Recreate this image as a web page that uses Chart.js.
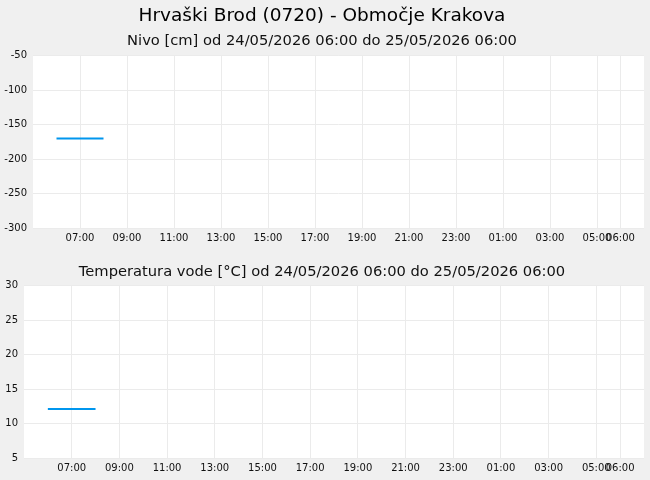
<!DOCTYPE html>
<html>
<head>
<meta charset="utf-8">
<script src="https://cdn.jsdelivr.net/npm/chart.js@4/dist/chart.umd.min.js"></script>
<style>
  html, body { margin: 0; padding: 0; background: #f0f0f0; }
  #wrap { position: relative; width: 650px; height: 480px; overflow: hidden; }
  canvas { position: absolute; left: 0; }
  #levelChart { top: 0; }
  #tempChart { top: 250px; }
</style>
</head>
<body>
<div id="wrap">
  <canvas id="levelChart" width="650" height="250"></canvas>
  <canvas id="tempChart" width="650" height="230"></canvas>
</div>
<script>
// hours counted from 24/05/2026 00:00
const hours = [6, 7, 8];
const levelValues = [-170, -170, -170];
const tempValues = [12.1, 12.1, 12.1];

const tickHours = [7, 9, 11, 13, 15, 17, 19, 21, 23, 25, 27, 29, 30];
const tickLabels = ["07:00", "09:00", "11:00", "13:00", "15:00", "17:00", "19:00",
                    "21:00", "23:00", "01:00", "03:00", "05:00", "06:00"];

const levelTicks = [-300, -250, -200, -150, -100, -50];
const tempTicks = [5, 10, 15, 20, 25, 30];

const FONT = "'DejaVu Sans', sans-serif";
const lineColor = "#0096ee";
const gridColor = "#ebebeb";

// white plot area
const plotBackground = {
    id: "plotBackground",
    beforeDraw(chart) {
        const a = chart.chartArea;
        const c = chart.ctx;
        c.save();
        c.fillStyle = "#ffffff";
        c.fillRect(a.left, a.top, a.right - a.left, a.bottom - a.top);
        c.restore();
    }
};

function makeChart(id, values, yTicks, yWidth, titles) {
    const ctx = document.getElementById(id).getContext("2d");
    return new Chart(ctx, {
        type: "line",
        data: {
            datasets: [{
                data: hours.map((h, i) => ({ x: h, y: values[i] })),
                borderColor: lineColor,
                borderWidth: 2,
                pointRadius: 0,
                fill: false,
                tension: 0
            }]
        },
        options: {
            responsive: false,
            animation: false,
            layout: { padding: { left: 0, right: 6, top: 0, bottom: 2 } },
            plugins: {
                legend: { display: false },
                tooltip: { enabled: false },
                title: titles.title,
                subtitle: titles.subtitle
            },
            scales: {
                x: {
                    type: "linear",
                    min: 5,
                    max: 31,
                    border: { display: false },
                    grid: { color: gridColor, drawTicks: false },
                    afterBuildTicks: scale => {
                        scale.ticks = tickHours.map(v => ({ value: v }));
                    },
                    afterFit: scale => { scale.height = 20; },
                    ticks: {
                        autoSkip: false,
                        maxRotation: 0,
                        padding: 4,
                        color: "#111",
                        font: { family: FONT, size: 10 },
                        callback: v => tickLabels[tickHours.indexOf(v)]
                    }
                },
                y: {
                    min: yTicks[0],
                    max: yTicks[yTicks.length - 1],
                    border: { display: false },
                    grid: { color: gridColor, drawTicks: false },
                    afterBuildTicks: scale => {
                        scale.ticks = yTicks.map(v => ({ value: v }));
                    },
                    afterFit: scale => { scale.width = yWidth; },
                    ticks: {
                        padding: 6,
                        color: "#111",
                        font: { family: FONT, size: 10 }
                    }
                }
            }
        },
        plugins: [plotBackground]
    });
}

makeChart("levelChart", levelValues, levelTicks, 33, {
    title: {
        display: true,
        text: "Hrvaški Brod (0720) - Območje Krakova",
        color: "#000",
        font: { family: FONT, size: 18.5, weight: "normal" },
        padding: { top: 5, bottom: 5 }
    },
    subtitle: {
        display: true,
        text: "Nivo [cm] od 24/05/2026 06:00 do 25/05/2026 06:00",
        color: "#111",
        font: { family: FONT, size: 14.7 },
        padding: { top: 0, bottom: 6 }
    }
});

makeChart("tempChart", tempValues, tempTicks, 24, {
    title: {
        display: true,
        text: "Temperatura vode [°C] od 24/05/2026 06:00 do 25/05/2026 06:00",
        color: "#111",
        font: { family: FONT, size: 14.7, weight: "normal" },
        padding: { top: 13, bottom: 5 }
    },
    subtitle: { display: false }
});
</script>
</body>
</html>
